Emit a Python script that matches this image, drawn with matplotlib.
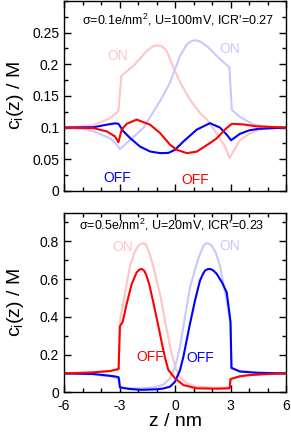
import matplotlib
matplotlib.use('Agg')
import matplotlib.pyplot as plt
from matplotlib.ticker import MultipleLocator

plt.rcParams['font.family'] = ['Liberation Sans', 'DejaVu Sans']
plt.rcParams['mathtext.default'] = 'regular'
plt.rcParams['axes.unicode_minus'] = False

LIGHT_RED = '#ffc4c4'
LIGHT_BLUE = '#c8c8ff'

# --- top panel: sigma=0.1 e/nm^2, U=100 mV ---
z_top_red_on = [-6, -5, -4.4, -3.5, -3.06, -2.9, -2.6, -2.16, -1.53, -1.2, -0.99, -0.7, -0.45, -0.09, 0.3, 0.81, 1.35, 1.71, 2.25, 2.7, 2.95,
                3.5, 4.0, 4.5, 5.0, 6]
c_top_red_on = [0.1, 0.102, 0.104, 0.115, 0.126, 0.182, 0.189, 0.2, 0.221, 0.228, 0.23, 0.228, 0.221, 0.195, 0.17, 0.144, 0.123, 0.113, 0.091, 0.07, 0.052,
                0.08, 0.09, 0.096, 0.099, 0.1]

z_top_blue_on = [-6, -5, -4.4, -3.5, -3.2, -2.98, -2.61, -1.71, -0.81, -0.27, 0.0, 0.27, 0.63, 0.85, 1.08, 1.35, 1.71, 2.43, 2.94,
                 3.07, 3.5, 4.23, 5.1, 6]
c_top_blue_on = [0.1, 0.098, 0.094, 0.083, 0.075, 0.066, 0.0756, 0.0994, 0.142, 0.171, 0.192, 0.213, 0.231, 0.236, 0.238, 0.236, 0.229, 0.208, 0.195,
                 0.128, 0.117, 0.105, 0.101, 0.1]

z_top_red_off = [-6, -4.4, -3.69, -3.24, -3.06, -2.88, -2.61, -2.07, -1.35, -0.81, -0.27, 0.09, 0.63, 1.17, 1.89, 2.25, 2.7, 3.07,
                 3.7, 4.4, 6]
c_top_red_off = [0.1, 0.099, 0.094, 0.086, 0.077, 0.097, 0.106, 0.1126, 0.1046, 0.0914, 0.073, 0.065, 0.0597, 0.062, 0.0756, 0.083, 0.097, 0.106,
                 0.105, 0.102, 0.1]

z_top_blue_off = [-6, -4.4, -3.69, -3.24, -3.06, -2.8, -2.43, -1.89, -1.35, -0.81, -0.36, 0.0, 0.45, 1.17, 1.89, 2.43, 2.79, 3.03,
                  3.5, 4.0, 4.5, 6]
c_top_blue_off = [0.1, 0.1006, 0.1046, 0.1067, 0.106, 0.0945, 0.0835, 0.07, 0.0623, 0.0597, 0.06, 0.065, 0.078, 0.0967, 0.107, 0.1, 0.089, 0.08,
                  0.09, 0.0956, 0.098, 0.1]

# --- bottom panel: sigma=0.5 e/nm^2, U=20 mV ---
z_bot_red_on = [-6, -4.5, -3.5, -3.05, -2.98, -2.7, -2.43, -2.2, -2.0, -1.85, -1.71, -1.57, -1.44, -1.3, -1.17, -0.81, -0.54, -0.27, 0.0,
                0.27, 0.63, 1.17, 2.0, 2.95, 3.0, 3.5, 4.5, 6]
c_bot_red_on = [0.1, 0.105, 0.113, 0.125, 0.38, 0.53, 0.67, 0.74, 0.775, 0.787, 0.79, 0.783, 0.75, 0.71, 0.663, 0.52, 0.38, 0.24, 0.135,
                0.082, 0.047, 0.03, 0.025, 0.025, 0.07, 0.085, 0.095, 0.1]

z_bot_red_off = [-6, -4.5, -3.5, -3.05, -2.98, -2.83, -2.61, -2.34, -2.07, -1.93, -1.8, -1.67, -1.55, -1.4, -1.16, -0.89, -0.71, -0.53, -0.36,
                 0.0, 0.45, 1.17, 2.25, 2.95, 3.0, 3.5, 4.0, 5.0, 6]
c_bot_red_off = [0.1, 0.105, 0.113, 0.123, 0.35, 0.373, 0.47, 0.575, 0.636, 0.65, 0.654, 0.645, 0.62, 0.575, 0.47, 0.346, 0.259, 0.179, 0.118,
                 0.074, 0.0385, 0.021, 0.019, 0.021, 0.07, 0.085, 0.091, 0.097, 0.1]

z_bot_blue_on = [-6, -4.5, -3.5, -3.0, -2.95, -2.0, -1.17, -0.63, -0.27, 0.0, 0.27, 0.54, 0.81, 1.17, 1.3, 1.44, 1.57, 1.71, 1.85, 2.0,
                 2.2, 2.43, 2.7, 2.98, 3.05, 3.5, 4.5, 6]
c_bot_blue_on = [0.1, 0.095, 0.085, 0.07, 0.025, 0.02, 0.026, 0.04, 0.074, 0.135, 0.24, 0.4, 0.557, 0.68, 0.72, 0.755, 0.783, 0.79, 0.787, 0.775,
                 0.74, 0.67, 0.53, 0.38, 0.125, 0.113, 0.105, 0.1]

z_bot_blue_off = [-6, -4.4, -3.3, -3.05, -2.98, -2.5, -1.8, -1.0, -0.63, -0.27, 0.0, 0.27, 0.45, 0.63, 0.81, 1.08, 1.35, 1.5, 1.62, 1.75,
                  1.89, 2.05, 2.25, 2.55, 2.79, 2.9, 3.0, 3.05, 3.5, 4.5, 6]
c_bot_blue_off = [0.1, 0.097, 0.085, 0.08, 0.026, 0.018, 0.013, 0.016, 0.02, 0.03, 0.056, 0.118, 0.188, 0.276, 0.364, 0.487, 0.593, 0.625, 0.645, 0.652,
                  0.654, 0.647, 0.628, 0.58, 0.53, 0.45, 0.37, 0.13, 0.11, 0.103, 0.1]

fig = plt.figure(figsize=(2.91, 4.33), dpi=100)
ax1 = fig.add_axes([0.22, 0.559, 0.763, 0.439])
ax2 = fig.add_axes([0.22, 0.094, 0.763, 0.414])

lw = 1.5
ax1.plot(z_top_red_on, c_top_red_on, color=LIGHT_RED, lw=lw)
ax1.plot(z_top_blue_on, c_top_blue_on, color=LIGHT_BLUE, lw=lw)
ax1.plot(z_top_blue_off, c_top_blue_off, color='#0000ff', lw=lw)
ax1.plot(z_top_red_off, c_top_red_off, color='#ff0000', lw=lw)

ax2.plot(z_bot_red_on, c_bot_red_on, color=LIGHT_RED, lw=lw)
ax2.plot(z_bot_blue_on, c_bot_blue_on, color=LIGHT_BLUE, lw=lw)
ax2.plot(z_bot_blue_off, c_bot_blue_off, color='#0000ff', lw=lw)
ax2.plot(z_bot_red_off, c_bot_red_off, color='#ff0000', lw=lw)

# labels on curves
ax1.text(-3.1, 0.213, 'ON', color=LIGHT_RED, fontsize=10, ha='center', va='center')
ax1.text(2.95, 0.224, 'ON', color=LIGHT_BLUE, fontsize=10, ha='center', va='center')
ax1.text(-3.15, 0.02, 'OFF', color='#0000ff', fontsize=10, ha='center', va='center')
ax1.text(1.1, 0.017, 'OFF', color='#ff0000', fontsize=10, ha='center', va='center')
ax1.text(0.15, 0.27, "σ=0.1e/nm$^2$, U=100mV, ICR'=0.27", fontsize=9, ha='center', va='center')

ax2.text(-2.85, 0.77, 'ON', color=LIGHT_RED, fontsize=10, ha='center', va='center')
ax2.text(2.97, 0.774, 'ON', color=LIGHT_BLUE, fontsize=10, ha='center', va='center')
ax2.text(-1.35, 0.188, 'OFF', color='#ff0000', fontsize=10, ha='center', va='center')
ax2.text(1.35, 0.18, 'OFF', color='#0000ff', fontsize=10, ha='center', va='center')
ax2.text(-0.18, 0.888, "σ=0.5e/nm$^2$, U=20mV, ICR'=0.23", fontsize=9, ha='center', va='center')

for ax in (ax1, ax2):
    ax.set_xlim(-6, 6)
    ax.xaxis.set_major_locator(MultipleLocator(3))
    ax.xaxis.set_minor_locator(MultipleLocator(1))
    ax.tick_params(which='both', direction='in', top=True, right=True, labelsize=10)
    ax.tick_params(which='major', length=5, width=1)
    ax.tick_params(which='minor', length=3, width=1)
    ax.tick_params(axis='x', pad=4.5)
    ax.set_ylabel('c$_i$(z) / M', fontsize=14)
    ax.yaxis.set_label_coords(-0.17, 0.5)
    for s in ax.spines.values():
        s.set_linewidth(1.0)

ax1.set_ylim(0, 0.3)
ax1.set_yticks([0, 0.05, 0.1, 0.15, 0.2, 0.25])
ax1.set_yticklabels(['0', '0.05', '0.1', '0.15', '0.2', '0.25'])
ax1.yaxis.set_minor_locator(MultipleLocator(0.025))
ax1.tick_params(labelbottom=False)

ax2.set_ylim(0, 0.95)
ax2.set_yticks([0, 0.2, 0.4, 0.6, 0.8])
ax2.set_yticklabels(['0', '0.2', '0.4', '0.6', '0.8'])
ax2.yaxis.set_minor_locator(MultipleLocator(0.1))
ax2.set_xlabel('z / nm', fontsize=14, labelpad=0)

fig.savefig('out.png', dpi=100)
